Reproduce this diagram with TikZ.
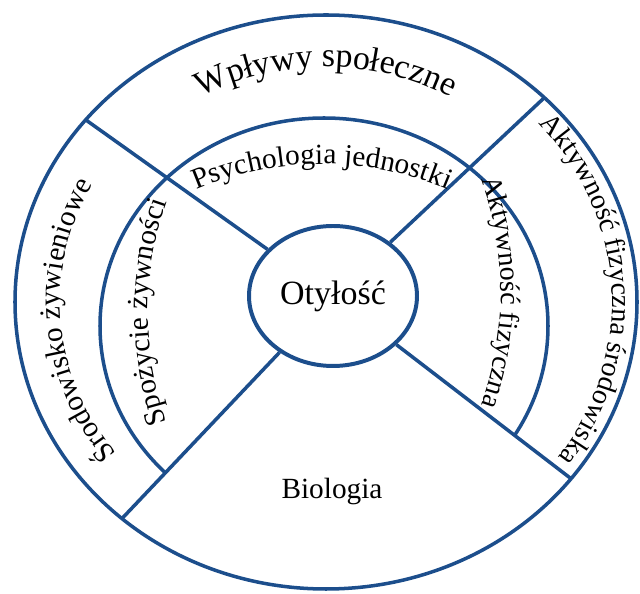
\documentclass[tikz,border=0pt]{standalone}
\usepackage{fontspec}
\setmainfont{Liberation Serif}
\usetikzlibrary{shapes.geometric,decorations.text,calc}
\definecolor{ringblue}{RGB}{28,78,140}
\tikzset{every picture/.style={line width=3pt}}
\tikzset{
    ring/.style={draw=ringblue},
    arctext/.style={decorate, decoration={text along path, text align=center, text={#1}}},
}
\newcommand{\topfont}{\fontsize{29}{29}\selectfont}
\newcommand{\ringfont}{\fontsize{25}{25}\selectfont}
\newcommand{\sidefont}{\fontsize{24}{24}\selectfont}
\newcommand{\midfont}{\fontsize{29}{29}\selectfont}

\begin{document}
\begin{tikzpicture}[x=0.3mm, y=0.3mm]
    \useasboundingbox (0,0) rectangle (640,594);
    \coordinate (o) at (326,292);
    \coordinate (m) at (324,268);
    % outer ring and spoke ends
    \draw[ring] (o) ellipse [x radius=311, y radius=287];
    \coordinate (ul) at ($(o)+(140.6:311 and 287)$);
    \coordinate (ur) at ($(o)+(45.4:311 and 287)$);
    \coordinate (ll) at ($(o)+(229:311 and 287)$);
    \coordinate (lr) at ($(o)+(322:311 and 287)$);
    \node[ring, ellipse, line width=3.4pt, minimum width=50.4mm, minimum height=42mm,
        inner sep=0pt, font=\midfont] (obesity) at (333,298) {Otyłość};
    \draw[ring] (obesity) -- (ul);
    \draw[ring] (obesity) -- (ur);
    \draw[ring] (obesity) -- (ll);
    \draw[ring] (obesity) -- (lr);
    % middle ring stops at the lower spokes
    \begin{scope}
        \clip (obesity.center) -- ($(obesity.center)!3!(ll)$) -- (-300,900)
            -- (1000,900) -- ($(obesity.center)!3!(lr)$) -- cycle;
        \draw[ring] (m) ellipse [x radius=224, y radius=208];
    \end{scope}
    \node[font=\ringfont] (biology) at (332,102) {Biologia};
    % texts along the rings
    \path[arctext={|\topfont|Wpływy społeczne}]
        ($(o)+(150:255 and 235)$) arc[start angle=150, end angle=30, x radius=255, y radius=235];
    \path[arctext={|\ringfont|Psychologia jednostki}]
        ($(322,110)+(115:320)$) arc[start angle=115, end angle=65, radius=320];
    \path[arctext={|\ringfont|Środowisko żywieniowe}]
        ($(o)+(255:266 and 246)$) arc[start angle=255, end angle=114, x radius=266, y radius=246];
    \path[arctext={|\ringfont|Spożycie żywności}]
        ($(478,282)+(205:330)$) arc[start angle=205, end angle=155, radius=330];
    \path[arctext={|\sidefont|Aktywność fizyczna środowiska}]
        ($(o)+(93:286 and 267)$) arc[start angle=93, end angle=-87, x radius=286, y radius=267];
    \path[arctext={|\sidefont|Aktywność fizyczna}]
        ($(171,302)+(27:330)$) arc[start angle=27, end angle=-27, radius=330];
\end{tikzpicture}
\end{document}
